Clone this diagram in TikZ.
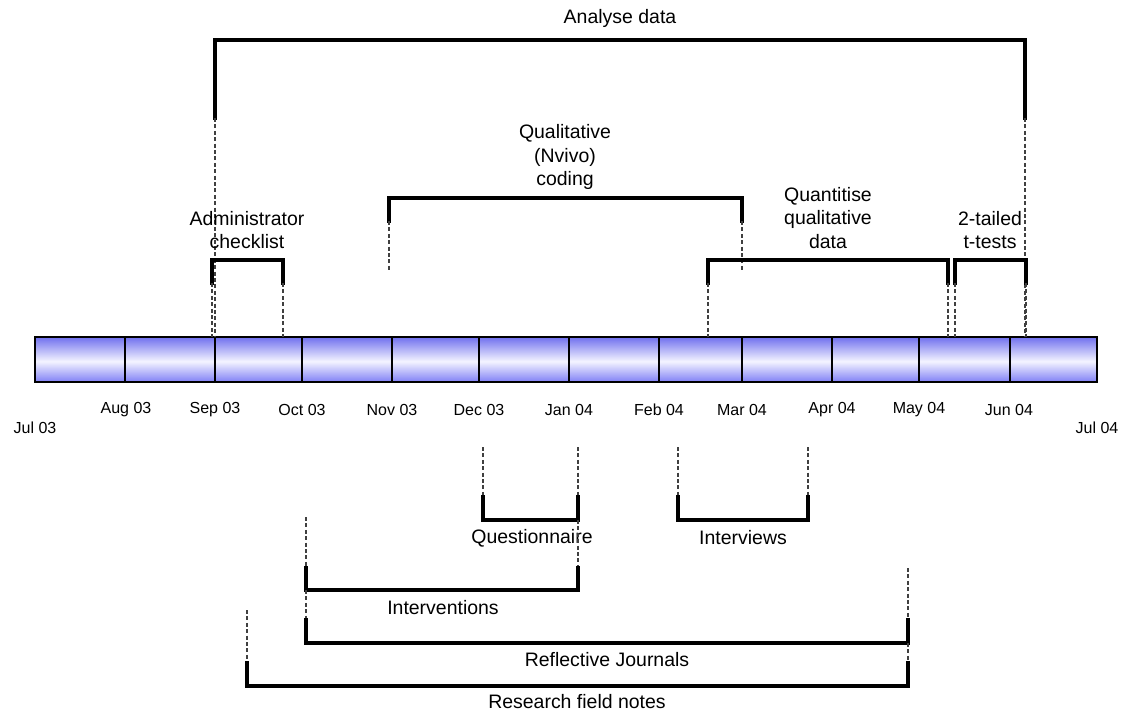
\documentclass[tikz,border=0pt]{standalone}
\usepackage{fontspec}
\setmainfont{Liberation Sans}
\definecolor{barTop}{RGB}{112,112,238}
\definecolor{barMid}{RGB}{244,244,255}
\definecolor{barBot}{RGB}{128,128,246}
\pgfdeclareverticalshading{barshade}{100bp}{%
  color(0bp)=(barBot); color(25bp)=(barBot); color(48bp)=(barMid);
  color(75bp)=(barTop); color(100bp)=(barTop)}
\begin{document}
\begin{tikzpicture}[x=0.75pt,y=-0.75pt,
  cellbox/.style={draw=black, line width=0.8pt, shade, shading=barshade},
  monthlbl/.style={font=\fontsize{12}{14}\selectfont, inner sep=0pt},
  tasklbl/.style={font=\fontsize{14.6}{17.6}\selectfont, align=center, inner sep=0pt},
  bracket/.style={line width=3pt, line join=miter, line cap=rect},
  guide/.style={black!75, line width=0.8pt, dash pattern=on 3pt off 1.8pt}]
\useasboundingbox (0,0) rectangle (1122,711);

% timeline cells, one per month
\foreach \a/\b [count=\i] in {35/125,125/215,215/302,302/392,392/479,479/569,
    569/659,659/742,742/832,832/919,919/1010,1010/1097}{
  \path[cellbox] (\a,337) rectangle (\b,382);
}

% month labels
\foreach \x/\m in {126/Aug 03,215/Sep 03,302/Oct 03,392/Nov 03,479/Dec 03,
    569/Jan 04,659/Feb 04,742/Mar 04,832/Apr 04,919/May 04,1009/Jun 04}{
  \node[monthlbl] at (\x,410) {\m};
}
\node[monthlbl] (jul03) at (35,428) {Jul 03};
\node[monthlbl] (jul04) at (1097,428) {Jul 04};

% ---------- tasks above the timeline ----------
% Analyse data
\coordinate (ad1) at (215,118); \coordinate (ad2) at (1025,118);
\draw[bracket] (ad1) -- (215,40) -- (1025,40) -- (ad2);
\draw[guide] (ad1) -- (215,337);
\draw[guide] (ad2) -- (1025,337);
\node[tasklbl] (adlbl) at (620,18) {Analyse data};

% Administrator checklist
\coordinate (ac1) at (212,283); \coordinate (ac2) at (283,283);
\draw[bracket] (ac1) -- (212,260) -- (283,260) -- (ac2);
\draw[guide] (ac1) -- (212,337);
\draw[guide] (ac2) -- (283,337);
\node[tasklbl] (aclbl) at (247,230) {Administrator\\checklist};

% Qualitative (Nvivo) coding
\coordinate (qc1) at (389,221); \coordinate (qc2) at (742,221);
\draw[bracket] (qc1) -- (389,198) -- (742,198) -- (qc2);
\draw[guide] (qc1) -- (389,272);
\draw[guide] (qc2) -- (742,272);
\node[tasklbl] (qclbl) at (565,157) {Qualitative\\(Nvivo)\\coding};

% Quantitise qualitative data
\coordinate (qq1) at (708,283); \coordinate (qq2) at (948,283);
\draw[bracket] (qq1) -- (708,260) -- (948,260) -- (qq2);
\draw[guide] (qq1) -- (708,337);
\draw[guide] (qq2) -- (948,337);
\node[tasklbl] (qqlbl) at (828,218) {Quantitise\\qualitative\\data};

% 2-tailed t-tests
\coordinate (tt1) at (955,283); \coordinate (tt2) at (1026,283);
\draw[bracket] (tt1) -- (955,260) -- (1026,260) -- (tt2);
\draw[guide] (tt1) -- (955,337);
\draw[guide] (tt2) -- (1026,337);
\node[tasklbl] (ttlbl) at (990,230) {2-tailed\\t-tests};

% ---------- tasks below the timeline ----------
% Questionnaire
\coordinate (qn1) at (483,497); \coordinate (qn2) at (578,497);
\draw[guide] (483,447) -- (qn1);
\draw[guide] (578,447) -- (qn2);
\draw[bracket] (qn1) -- (483,520) -- (578,520) -- (qn2);
\node[tasklbl] (qnlbl) at (532,538) {Questionnaire};

% Interviews
\coordinate (iv1) at (678,497); \coordinate (iv2) at (808,497);
\draw[guide] (678,447) -- (iv1);
\draw[guide] (808,447) -- (iv2);
\draw[bracket] (iv1) -- (678,520) -- (808,520) -- (iv2);
\node[tasklbl] (ivlbl) at (743,538) {Interviews};

% Interventions
\coordinate (in1) at (306,568); \coordinate (in2) at (578,568);
\draw[guide] (306,517) -- (in1);
\draw[guide] (578,520) -- (in2);
\draw[bracket] (in1) -- (306,590) -- (578,590) -- (in2);
\node[tasklbl] (inlbl) at (443,608) {Interventions};

% Reflective Journals
\coordinate (rj1) at (306,620); \coordinate (rj2) at (908,620);
\draw[guide] (306,590) -- (rj1);
\draw[guide] (908,568) -- (rj2);
\draw[bracket] (rj1) -- (306,643) -- (908,643) -- (rj2);
\node[tasklbl] (rjlbl) at (607,660) {Reflective Journals};

% Research field notes
\coordinate (rf1) at (247,663); \coordinate (rf2) at (908,663);
\draw[guide] (247,610) -- (rf1);
\draw[guide] (908,643) -- (rf2);
\draw[bracket] (rf1) -- (247,686) -- (908,686) -- (rf2);
\node[tasklbl] (rflbl) at (577,702) {Research field notes};
\end{tikzpicture}
\end{document}
